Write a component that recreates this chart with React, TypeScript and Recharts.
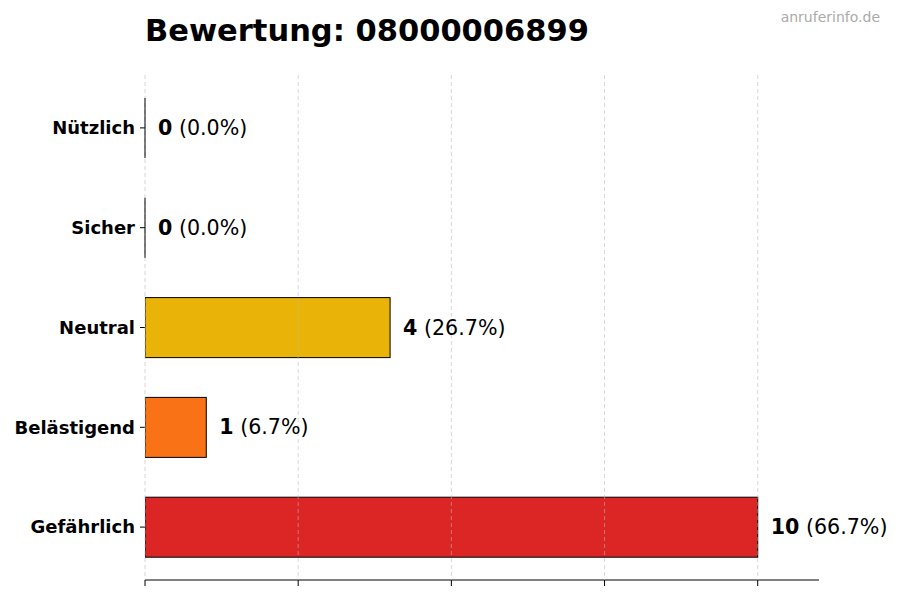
import React from 'react'
import { BarChart, Bar, XAxis, YAxis, CartesianGrid, Cell, LabelList } from 'recharts'

const categories = ['Nützlich', 'Sicher', 'Neutral', 'Belästigend', 'Gefährlich']
const counts = [0, 0, 4, 1, 10]
const percents = ['0.0', '0.0', '26.7', '6.7', '66.7']
const colors = ['#16a34a', '#22c55e', '#eab308', '#f97316', '#dc2626']
const xTicks = [0, 2.5, 5, 7.5, 10]
const xMax = 11

const data = categories.map((name, i) => ({
  name,
  value: counts[i],
  pct: percents[i],
  color: colors[i],
}))

const FONT = '"DejaVu Sans", sans-serif'

function BarShape(props: any) {
  const { x, y, width, height, fill } = props
  return <rect x={x} y={y} width={Math.max(width, 0)} height={height} fill={fill} stroke="#000" strokeWidth={1} />
}

// label after each bar; zero bars also get their thin outline here
function ValueLabel(props: any) {
  const { x, y, width, height, index } = props
  const d = data[index]
  return (
    <g>
      {width === 0 && <line x1={x} x2={x} y1={y} y2={y + height} stroke="#000" strokeWidth={1} />}
      <text x={x + width + 13} y={y + height / 2} dominantBaseline="central" fontFamily={FONT} fontSize={20.6} fill="#000">
        <tspan fontWeight="bold">{d.value}</tspan>
        <tspan> ({d.pct}%)</tspan>
      </text>
    </g>
  )
}

function gridX({ xAxis, offset }: any) {
  if (xAxis && typeof xAxis.scale === 'function') return xTicks.map((t) => xAxis.scale(t))
  return xTicks.map((t) => offset.left + (t / xMax) * offset.width)
}

export default function App() {
  return (
    <div style={{ position: 'relative', width: 900, height: 600, background: '#fff' }}>
      <style>{`body{margin:0}`}</style>
      <BarChart
        width={900}
        height={600}
        data={data}
        layout="vertical"
        margin={{ top: 75, right: 81, bottom: 0, left: 0 }}
      >
        <XAxis
          type="number"
          domain={[0, xMax]}
          ticks={xTicks}
          allowDataOverflow
          tickFormatter={() => ''}
          axisLine={{ stroke: '#000' }}
          tickLine={{ stroke: '#000' }}
          tickSize={6}
          height={20}
        />
        <YAxis
          type="category"
          dataKey="name"
          width={145}
          axisLine={false}
          tickLine={{ stroke: '#000' }}
          tickSize={5}
          padding={{ top: 3, bottom: 3 }}
          tick={{ fill: '#000', fontFamily: FONT, fontSize: 18, fontWeight: 'bold', dx: -3 }}
        />
        <Bar dataKey="value" barSize={60} isAnimationActive={false} shape={<BarShape />}>
          {data.map((d) => (
            <Cell key={d.name} fill={d.color} />
          ))}
          <LabelList dataKey="value" content={<ValueLabel />} />
        </Bar>
        {/* grid sits over the bars, half transparent */}
        <CartesianGrid
          horizontal={false}
          stroke="#b8b8b8"
          strokeOpacity={0.55}
          strokeDasharray="4 3"
          verticalCoordinatesGenerator={gridX}
          zIndex={600}
        />
      </BarChart>
      <svg width={900} height={60} style={{ position: 'absolute', left: 0, top: 0, pointerEvents: 'none' }}>
        <text x={145} y={41} fontFamily={FONT} fontSize={30.5} fontWeight="bold" fill="#000">
          Bewertung: 08000006899
        </text>
        <text x={880} y={22} textAnchor="end" fontFamily={FONT} fontSize={14} fill="#aaaaaa">
          anruferinfo.de
        </text>
      </svg>
    </div>
  )
}
